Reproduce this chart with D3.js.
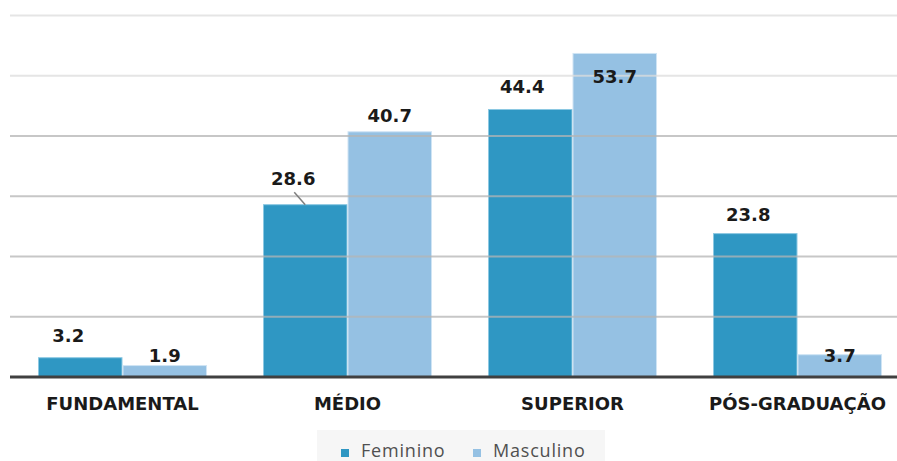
<!DOCTYPE html>
<html>
<head>
<meta charset="utf-8">
<script src="https://cdn.jsdelivr.net/npm/d3@7"></script>
<style>
  html, body { margin: 0; padding: 0; background: #ffffff; }
  svg { display: block; }
</style>
</head>
<body>
<svg id="chart" width="897" height="461"></svg>
<script>
// Escolaridade por sexo (%)
const categories = ["FUNDAMENTAL", "MÉDIO", "SUPERIOR", "PÓS-GRADUAÇÃO"];
const seriesNames = ["Feminino", "Masculino"];
const feminino = [3.2, 28.6, 44.4, 23.8];
const masculino = [1.9, 40.7, 53.7, 3.7];
const yTicks = [10, 20, 30, 40, 50, 60];

// Hand-placed label nudges [dx, dy] (px) per bar, in category order, Feminino then Masculino
const labelNudge = [
  [[-12, -22], [0, -10.5]],
  [[-12, -26.5], [0, -16.5]],
  [[-8, -23], [0, 23]],
  [[-7, -19.5], [0, 1]]
];
const leaderLines = [[1, 0]]; // [category index, series index] labels joined to their bar

const colors = ["#2f97c3", "#95c1e3"];
const strokes = ["#8cc8e2", "#cfe4f4"];

const svg = d3.select("#chart");
const W = 897, H = 461;
const left = 10, right = 910, baseY = 377, topY = 15.5;

const rows = categories.map((c, i) => ({ cat: c, values: [feminino[i], masculino[i]] }));

const x = d3.scaleBand().domain(categories).range([left, right])
  .paddingInner(56 / 225).paddingOuter(28 / 225);
const xs = d3.scaleBand().domain(seriesNames).range([0, x.bandwidth()]).padding(0);
const y = d3.scaleLinear().domain([0, 60]).range([baseY, topY]);

// bars
const groups = svg.append("g").selectAll("g").data(rows).join("g")
  .attr("transform", d => `translate(${x(d.cat)},0)`);

groups.selectAll("rect")
  .data(d => d.values.map((v, s) => ({ v, s })))
  .join("rect")
  .attr("x", d => xs(seriesNames[d.s]) + 0.5)
  .attr("width", xs.bandwidth() - 1)
  .attr("y", d => y(d.v))
  .attr("height", d => y(0) - y(d.v))
  .attr("fill", d => colors[d.s])
  .attr("stroke", d => strokes[d.s])
  .attr("stroke-width", 1);

// gridlines, drawn over the bars
svg.append("g").selectAll("line").data(yTicks).join("line")
  .attr("x1", left).attr("x2", W)
  .attr("y1", d => y(d)).attr("y2", d => y(d))
  .attr("stroke", d => d >= 50 ? "#dcdcdc" : "#b4b4b4")
  .attr("stroke-opacity", 0.75)
  .attr("stroke-width", 2);

// baseline axis
const xAxis = d3.axisBottom(x).tickSize(0).tickPadding(0);
const axisG = svg.append("g").attr("transform", `translate(0,${baseY})`).call(xAxis);
axisG.select(".domain").remove();
axisG.append("line").attr("x1", left).attr("x2", W).attr("y1", 0).attr("y2", 0)
  .attr("stroke", "#404040").attr("stroke-width", 3);
axisG.selectAll(".tick text")
  .attr("y", 33)
  .attr("dy", 0)
  .attr("fill", "#1a1a1a")
  .style("font-family", "'DejaVu Sans', sans-serif")
  .style("font-weight", "bold")
  .style("font-size", "18px");

// value labels
const labelG = svg.append("g");
rows.forEach((r, ci) => {
  r.values.forEach((v, si) => {
    const cx = x(r.cat) + xs(seriesNames[si]) + xs.bandwidth() / 2;
    const [dx, dy] = labelNudge[ci][si];
    const ly = y(v) + dy;
    labelG.append("text")
      .attr("x", cx + dx).attr("y", ly)
      .attr("dy", "0.36em")
      .attr("text-anchor", "middle")
      .attr("fill", "#1a1a1a")
      .style("font-family", "'DejaVu Sans', sans-serif")
      .style("font-weight", "bold")
      .style("font-size", "18px")
      .text(d3.format(".1f")(v));
    if (leaderLines.some(([a, b]) => a === ci && b === si)) {
      labelG.append("line")
        .attr("x1", cx + dx + 1).attr("y1", ly + 14)
        .attr("x2", cx).attr("y2", y(v))
        .attr("stroke", "#7f7f7f").attr("stroke-width", 1.5);
    }
  });
});

// legend
const legend = svg.append("g");
legend.append("rect").attr("x", 317).attr("y", 430).attr("width", 288).attr("height", 31)
  .attr("fill", "#f6f6f6");
const legendX = [341, 473];
seriesNames.forEach((name, i) => {
  legend.append("rect").attr("x", legendX[i]).attr("y", 449).attr("width", 8).attr("height", 8)
    .attr("fill", colors[i]);
  legend.append("text").attr("x", legendX[i] + 20).attr("y", 457)
    .attr("fill", "#505050")
    .style("font-family", "'Open Sans', sans-serif")
    .style("font-size", "18px")
    .style("letter-spacing", "0.8px")
    .text(name);
});
</script>
</body>
</html>
